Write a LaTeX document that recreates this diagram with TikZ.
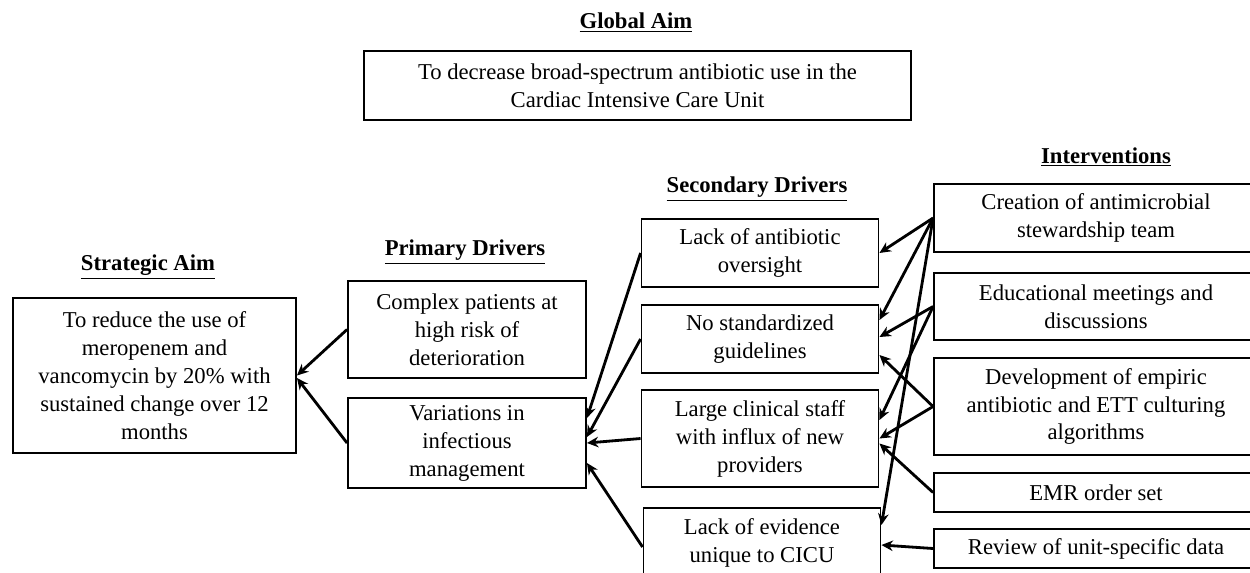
\documentclass[tikz,border=0pt]{standalone}
\usepackage{fontspec}
\setmainfont{Liberation Serif}
\usetikzlibrary{arrows.meta}

\begin{document}
\begin{tikzpicture}[x=0.02cm, y=-0.02cm, >={Stealth[length=6.5pt,width=6pt]},
    box/.style={draw, line width=1.1pt, align=center, inner sep=0pt, font=\fontsize{12.9}{15.9}\selectfont},
    head/.style={font=\fontsize{12.9}{15.9}\selectfont\bfseries}]

    \useasboundingbox (0,0) rectangle (1250,572);

    \node[head]         (hglob) at (636, 23)       {\underline{Global Aim}};
    \node[head]         (hstrat) at (148, 267)     {\underline{Strategic Aim}};
    \node[head]         (hpd) at (465, 252)        {\underline{Primary Drivers}};
    \node[head]         (hsd) at (757, 189)        {\underline{Secondary Drivers}};
    \node[head]         (hiv) at (1106, 157)       {\underline{Interventions}};

    \node[box, minimum width=10.94cm, minimum height=1.38cm] (glob) at (637.5, 85.5)
        {To decrease broad-spectrum antibiotic use in the\\Cardiac Intensive Care Unit};
    \node[box, minimum width=5.66cm, minimum height=3.1cm]   (strat) at (154.5, 375.5)
        {To reduce the use of\\meropenem and\\vancomycin by 20\% with\\sustained change over 12\\months};

    \node[box, minimum width=4.76cm, minimum height=1.94cm]  (pd1) at (467, 329.5)   {Complex patients at\\high risk of\\deterioration};
    \node[box, minimum width=4.76cm, minimum height=1.8cm]   (pd2) at (467, 443)     {Variations in\\infectious\\management};

    \node[box, minimum width=4.74cm, minimum height=1.36cm]  (sd1) at (760, 253)     {Lack of antibiotic\\oversight};
    \node[box, minimum width=4.74cm, minimum height=1.36cm]  (sd2) at (760, 339)     {No standardized\\guidelines};
    \node[box, minimum width=4.74cm, minimum height=1.94cm]  (sd3) at (760, 438.5)   {Large clinical staff\\with influx of new\\providers};
    \node[box, minimum width=4.74cm, minimum height=1.4cm]   (sd4) at (762, 543)     {Lack of evidence\\unique to CICU};

    \node[box, minimum width=6.48cm, minimum height=1.36cm]  (iv1) at (1096, 218)    {Creation of antimicrobial\\stewardship team};
    \node[box, minimum width=6.48cm, minimum height=1.34cm]  (iv2) at (1096, 306.5)  {Educational meetings and\\discussions};
    \node[box, minimum width=6.48cm, minimum height=1.94cm]  (iv3) at (1096, 406.5)  {Development of empiric\\antibiotic and ETT culturing\\algorithms};
    \node[box, minimum width=6.48cm, minimum height=0.78cm]  (iv4) at (1096, 492.5)  {EMR order set};
    \node[box, minimum width=6.48cm, minimum height=0.78cm]  (iv5) at (1096, 548.5)  {Review of unit-specific data};


    \draw (pd1.west) edge[->,ultra thick]  (strat.east);
    \draw (pd2.west) edge[->,ultra thick]  ([yshift=-0.05cm]strat.east);
    \draw (sd1.west) edge[->,ultra thick]  ([yshift=0.5cm]pd2.east);
    \draw (sd2.west) edge[->,ultra thick]  ([yshift=0.12cm]pd2.east);
    \draw (sd3.west) edge[->,ultra thick]  (pd2.east);
    \draw ([yshift=-0.08cm]sd4.west) edge[->,ultra thick]  ([yshift=-0.4cm]pd2.east);

    \draw (iv1.west) edge[->,ultra thick]  (sd1.east);
    \draw (iv1.west) edge[->,ultra thick]  ([yshift=0.38cm]sd2.east);
    \draw (iv1.west) edge[->,ultra thick]  ([yshift=0.36cm]sd4.east);
    \draw (iv2.west) edge[->,ultra thick]  ([yshift=0.04cm]sd2.east);
    \draw (iv2.west) edge[->,ultra thick]  ([yshift=0.37cm]sd3.east);
    \draw (iv3.west) edge[->,ultra thick]  ([yshift=-0.32cm]sd2.east);
    \draw (iv3.west) edge[->,ultra thick]  (sd3.east);
    \draw (iv4.west) edge[->,ultra thick]  ([yshift=-0.1cm]sd3.east);
    \draw (iv5.west) edge[->,ultra thick]  ([yshift=-0.04cm]sd4.east);
  \end{tikzpicture}
\end{document}
